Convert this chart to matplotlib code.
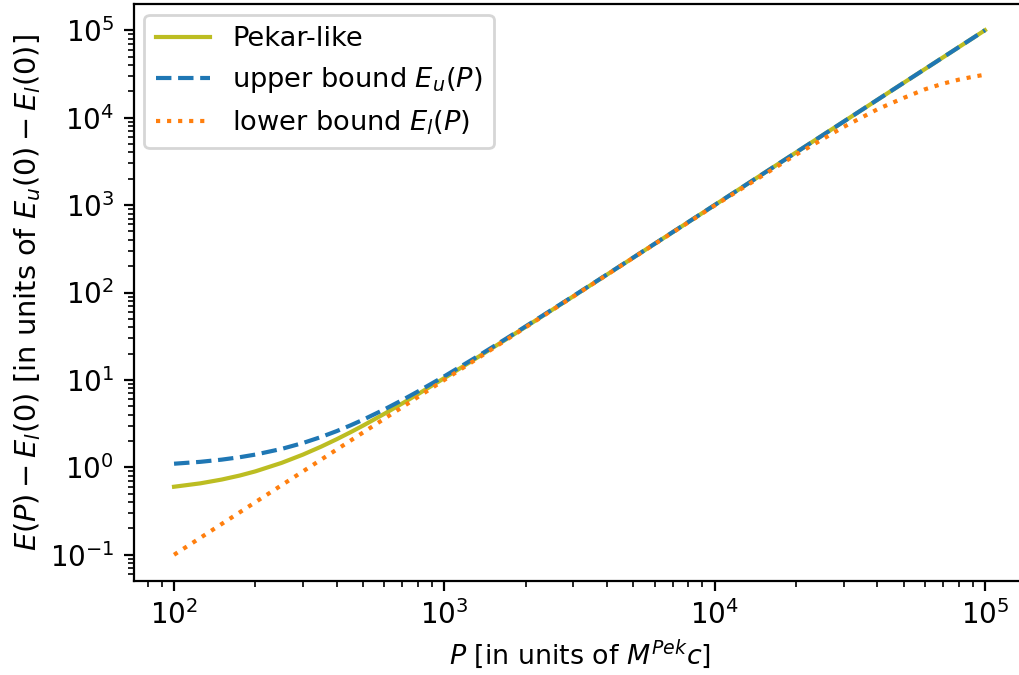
import numpy as np
import matplotlib
matplotlib.use('Agg')
import matplotlib.pyplot as plt

# momentum values P (units of M^Pek c)
P = [100, 125, 150, 175, 200, 250, 300, 350, 400, 450, 500, 600, 700, 800,
     1000, 1300, 1700, 2000, 3000, 5000, 10000, 20000, 30000, 40000,
     50000, 60000, 70000, 80000, 90000, 100000]

# energies
pekar = [0.6, 0.656, 0.725, 0.806, 0.9, 1.125, 1.4, 1.725, 2.1, 2.525, 3.0,
         4.1, 5.4, 6.9, 10.5, 17.4, 29.4, 40.5, 90.5, 250.5, 1000, 4000,
         9000, 16000, 25000, 36000, 49000, 64000, 81000, 100000]
upper = [1.1, 1.156, 1.225, 1.306, 1.4, 1.625, 1.9, 2.225, 2.6, 3.025, 3.5,
         4.6, 5.9, 7.4, 11.0, 17.9, 29.9, 41.0, 91.0, 251.0, 1001, 4001,
         9001, 16001, 25001, 36001, 49001, 64001, 81001, 100001]
lower = [0.1, 0.156, 0.225, 0.306, 0.4, 0.625, 0.9, 1.225, 1.6, 2.025, 2.5,
         3.6, 4.9, 6.4, 10.0, 16.9, 28.9, 40.0, 90.0, 249.5, 988, 3770,
         7830, 12460, 16800, 21100, 24500, 27200, 29300, 31000]

fig = plt.figure(figsize=(1019 / 200, 675 / 200), dpi=200)
ax = fig.add_axes([133.5 / 1019, 94 / 675, 892 / 1019, 577 / 675])

ax.plot(P, pekar, color='#bcbd22', label='Pekar-like')
ax.plot(P, upper, color='C0', linestyle='--', label=r'upper bound $E_u(P)$')
ax.plot(P, lower, color='C1', linestyle=':', label=r'lower bound $E_l(P)$')

ax.set_xscale('log')
ax.set_yscale('log')
ax.set_xlabel(r'$P$ [in units of $M^{Pek}c$]', fontsize=9.7, labelpad=2.5)
ax.set_ylabel(r'$E(P)-E_l(0)$ [in units of $E_u(0)-E_l(0)$]', fontsize=10.4, labelpad=2.5)
ax.legend(loc='upper left', fontsize=9.8, borderaxespad=0.4, labelspacing=0.48, borderpad=0.42)

fig.savefig('out.png', dpi=200)
plt.close()
